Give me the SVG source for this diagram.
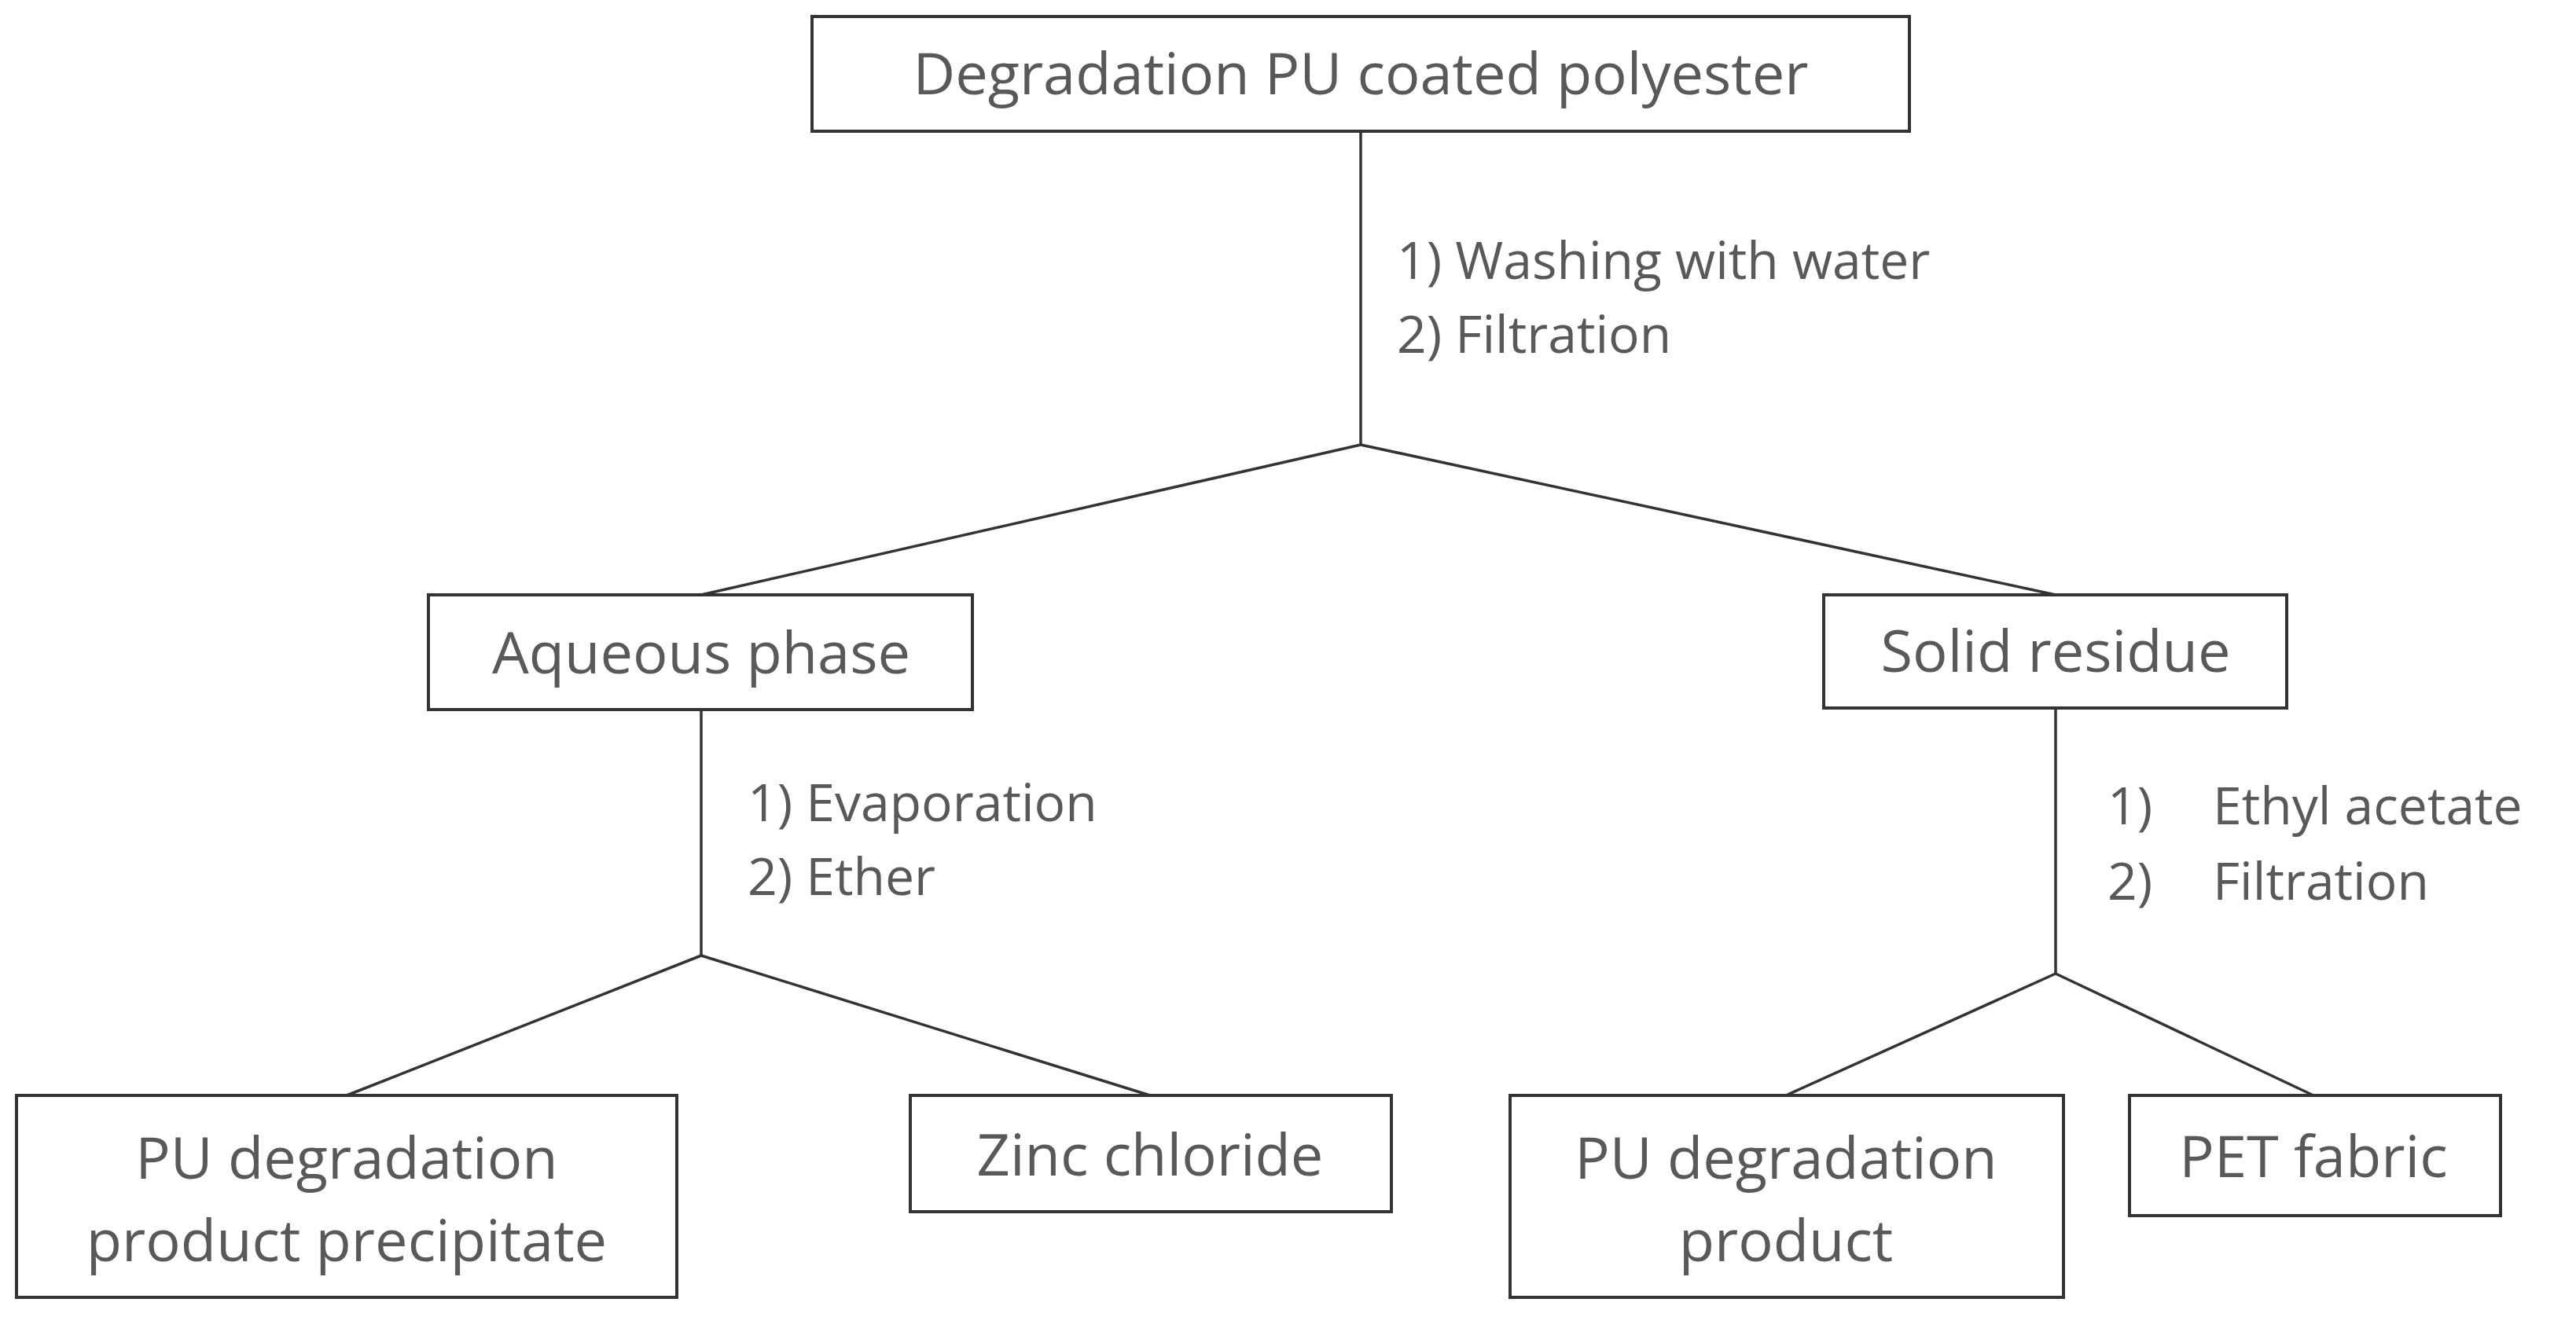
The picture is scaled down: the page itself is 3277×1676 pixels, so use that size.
<svg xmlns="http://www.w3.org/2000/svg" width="3277" height="1676" viewBox="0 0 3277 1676">
<style>
rect{fill:#fff;stroke:#333;stroke-width:4}
.n{font-family:"Open Sans","Noto Sans",sans-serif;font-size:74px;fill:#595959;text-anchor:middle}
.l{font-family:"Open Sans","Noto Sans",sans-serif;font-size:66px;fill:#595959}
#c line{stroke:#333;stroke-width:3.5}
</style>
<rect x="0" y="0" width="3277" height="1676" style="stroke:none"/>
<g id="c">
<line x1="1731" y1="167" x2="1731" y2="566"/>
<line x1="1731" y1="566" x2="892" y2="757"/>
<line x1="1731" y1="566" x2="2615" y2="757"/>
<line x1="892" y1="903" x2="892" y2="1216"/>
<line x1="892" y1="1216" x2="441" y2="1394"/>
<line x1="892" y1="1216" x2="1463" y2="1394"/>
<line x1="2615" y1="901" x2="2615" y2="1239"/>
<line x1="2615" y1="1239" x2="2272" y2="1394"/>
<line x1="2615" y1="1239" x2="2943" y2="1394"/>
<text class="l" x="1777" y="355">1) Washing with water</text>
<text class="l" x="1777" y="449">2) Filtration</text>
<text class="l" x="951" y="1045">1) Evaporation</text>
<text class="l" x="951" y="1139">2) Ether</text>
<text class="l" x="2681" y="1049">1)</text>
<text class="l" x="2815" y="1049">Ethyl acetate</text>
<text class="l" x="2681" y="1145">2)</text>
<text class="l" x="2815" y="1145">Filtration</text>
</g>
<g id="top"><rect x="1033" y="21" width="1396" height="146"/><text class="n" x="1731" y="120">Degradation PU coated polyester</text></g>
<g id="aq"><rect x="545" y="757" width="692" height="146"/><text class="n" x="892" y="857">Aqueous phase</text></g>
<g id="solid"><rect x="2320" y="757" width="589" height="144"/><text class="n" x="2615" y="855">Solid residue</text></g>
<g id="pup"><rect x="21" y="1394" width="840" height="257"/><text class="n" x="441" y="1500">PU degradation</text><text class="n" x="441" y="1605">product precipitate</text></g>
<g id="zinc"><rect x="1158" y="1394" width="612" height="148"/><text class="n" x="1463" y="1496">Zinc chloride</text></g>
<g id="pu"><rect x="1921" y="1394" width="704" height="257"/><text class="n" x="2272" y="1500">PU degradation</text><text class="n" x="2272" y="1605">product</text></g>
<g id="pet"><rect x="2709" y="1394" width="472" height="153"/><text class="n" x="2943" y="1498">PET fabric</text></g>
</svg>
